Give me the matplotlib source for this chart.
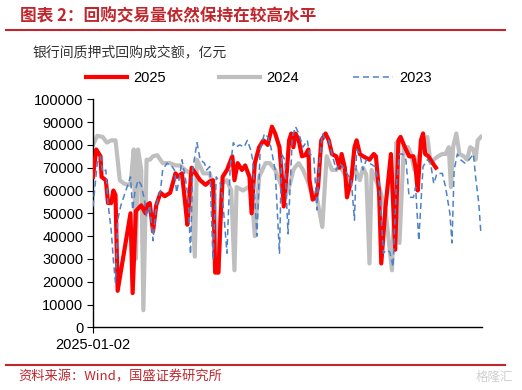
import matplotlib
matplotlib.use("Agg")
import matplotlib.pyplot as plt

plt.rcParams['font.family'] = ['Liberation Sans', 'Noto Sans CJK SC', 'DejaVu Sans']

# ---- data (day offset from 2025-01-02, value in 亿元) ----
days_2025 = [0, 3, 7, 8, 12, 14, 17, 19, 21, 23, 35, 37, 40, 45, 49, 50, 53, 56, 59, 63,
             67, 72, 77, 79, 83, 86, 88, 92, 100, 105, 109, 112, 114, 117, 119, 121, 125, 130,
             132, 135, 139, 142, 146, 148, 151, 155, 159, 163, 167, 170, 174, 176, 178, 181,
             183, 185, 187, 189, 192, 195, 198, 201, 202, 205, 208, 210, 213, 217, 220, 223,
             227, 230, 232, 235, 237, 241, 244, 246, 249, 252, 258, 262, 264, 267, 269, 273,
             278, 282, 285, 287, 291, 295, 299, 301, 303, 306, 308, 310, 313, 317, 320]
vals_2025 = [66000, 78000, 75000, 66000, 64500, 54500, 54500, 60000, 58000, 16000, 50000,
             15000, 51000, 53500, 50000, 53500, 54500, 42000, 53500, 59000, 57500, 59000,
             67500, 66000, 67500, 54500, 45000, 70000, 64500, 62500, 64000, 64500, 24000,
             24000, 47000, 66000, 69000, 75000, 64500, 72000, 69000, 71000, 66000, 50000,
             72000, 79000, 82000, 80000, 88000, 85000, 79000, 67500, 53000, 69000, 82000,
             85000, 79000, 85000, 82000, 75000, 75500, 78000, 64500, 56000, 57000, 61500,
             82000, 85000, 82000, 76000, 75000, 70000, 76000, 70000, 57000, 64500, 79000,
             82000, 76000, 75000, 73500, 76000, 75000, 59000, 28000, 53000, 76000, 34000,
             82000, 83500, 79000, 75000, 75000, 70000, 60000, 82000, 85000, 76000, 75000,
             72000, 70000]

days_2024 = [0, 4, 9, 13, 17, 21, 23, 25, 29, 33, 35, 38, 40, 42, 45, 47, 50, 53, 56, 60,
             65, 72, 77, 81, 86, 91, 95, 97, 103, 109, 113, 117, 120, 125, 129, 132, 134, 140,
             145, 148, 151, 155, 161, 165, 170, 175, 179, 183, 187, 189, 192, 196, 200, 204,
             208, 214, 218, 223, 227, 230, 235, 239, 243, 245, 249, 252, 255, 258, 260, 264,
             268, 273, 279, 283, 286, 290, 294, 297, 300, 304, 308, 312, 315, 318, 322, 326,
             329, 332, 334, 336, 339, 342, 346, 349, 352, 355, 357, 359, 362]
vals_2024 = [80000, 84000, 83500, 81000, 82000, 82000, 73500, 64500, 63000, 62500, 62500,
             78000, 30000, 78000, 69000, 7500, 73500, 73500, 75000, 75500, 72000, 72000,
             71000, 71000, 69000, 67500, 31000, 73500, 67500, 67500, 60000, 24000, 63000,
             64500, 60000, 25000, 61500, 60000, 61500, 59000, 40000, 66000, 72000, 72000,
             69000, 63000, 57000, 61500, 69000, 70500, 72000, 69000, 64500, 59000, 59000,
             44000, 75000, 69000, 69000, 71000, 67000, 64500, 67500, 69000, 64500, 70000,
             67000, 28000, 69000, 64500, 60000, 51000, 25000, 81000, 37000, 79000, 79000,
             75500, 69000, 75000, 79000, 83500, 72000, 73500, 75000, 76000, 76000, 79000,
             61500, 79000, 85000, 76000, 75000, 73500, 79000, 78000, 73500, 82000, 83500]

days_2023 = [0, 4, 7, 9, 12, 14, 17, 19, 21, 23, 26, 30, 35, 37, 39, 42, 45, 48, 50, 53,
             56, 59, 63, 65, 69, 73, 76, 78, 81, 83, 86, 89, 91, 93, 97, 100, 104, 106, 109,
             112, 115, 119, 121, 125, 128, 131, 133, 137, 141, 144, 147, 149, 153, 156, 160,
             163, 166, 170, 174, 176, 179, 182, 186, 189, 192, 196, 200, 202, 206, 209, 211,
             214, 217, 220, 223, 227, 230, 233, 237, 241, 244, 246, 249, 252, 255, 258, 263,
             267, 271, 274, 277, 280, 283, 286, 289, 292, 295, 299, 301, 304, 308, 312, 315,
             318, 321, 326, 329, 333, 335, 337, 340, 343, 347, 351, 355, 357, 360, 362]
vals_2023 = [53000, 72000, 75000, 68000, 69000, 54500, 42500, 29500, 19500, 47000, 53500,
             59000, 66000, 51500, 59000, 64500, 62500, 56000, 48500, 53500, 38000, 53500,
             60000, 69000, 72000, 71000, 69000, 59000, 66500, 73500, 66000, 56000, 32000,
             69000, 81000, 73500, 72000, 69000, 70500, 29500, 66000, 63000, 56000, 32500,
             70500, 81000, 79000, 80000, 79000, 82000, 78000, 73500, 40000, 78000, 85000,
             83500, 79000, 69000, 32500, 76000, 73500, 41000, 83500, 88000, 85000, 79000,
             82000, 76000, 75000, 51500, 70500, 85000, 82000, 82000, 76000, 69000, 72000,
             70500, 67500, 64500, 47000, 78000, 76000, 69000, 73500, 72000, 70500, 63000,
             32500, 34000, 33000, 26500, 61500, 76000, 76000, 73500, 57000, 57000, 61500,
             38000, 70500, 73500, 72000, 63000, 67500, 67500, 61500, 50000, 37000, 69000,
             76000, 73500, 72000, 73500, 76000, 66000, 54500, 41000]

y_ticks = [0, 10000, 20000, 30000, 40000, 50000, 60000, 70000, 80000, 90000, 100000]
x_tick_labels = ["2025-01-02"]

title = "图表 2：回购交易量依然保持在较高水平"
subtitle = "银行间质押式回购成交额，亿元"
source = "资料来源：Wind，国盛证券研究所"

W, H = 522, 390
fig = plt.figure(figsize=(W / 100, H / 100), dpi=100)
fig.patch.set_facecolor("white")

def fx(px):
    return px / W

def fy(py):
    return 1 - py / H

ax = fig.add_axes([fx(93), fy(327.3), (482 - 93) / W, (327.3 - 99.3) / H])

l24, = ax.plot(days_2024, vals_2024, color="#bfbfbf", lw=3.0, solid_joinstyle="round",
               label="2024", zorder=2)
l25, = ax.plot(days_2025, vals_2025, color="#ff0000", lw=3.0, solid_joinstyle="round",
               label="2025", zorder=3)
l23, = ax.plot(days_2023, vals_2023, color="#4f81c7", lw=1.1, ls=(0, (4, 2.5)),
               label="2023", zorder=4)

ax.set_xlim(0, 363)
ax.set_ylim(0, 100000)
ax.set_yticks(y_ticks)
ax.set_yticklabels([str(v) for v in y_ticks], fontsize=10.5, color="#000000")
ax.set_xticks([0])
ax.set_xticklabels(x_tick_labels, fontsize=10.5)
ax.tick_params(axis="y", direction="out", length=4, width=0.8, pad=3)
ax.tick_params(axis="x", direction="out", length=4, width=0.8, pad=4)
for s in ["top", "right"]:
    ax.spines[s].set_visible(False)
for s in ["left", "bottom"]:
    ax.spines[s].set_linewidth(1.0)
    ax.spines[s].set_color("#000000")

fig.legend(handles=[l25, l24, l23], loc="center", bbox_to_anchor=(fx(259), fy(78)),
           ncol=3, frameon=False, fontsize=10.5, handlelength=2.8, handletextpad=0.4,
           columnspacing=3.7)

red = "#c0272d"
fig.text(fx(20), fy(16), title, fontsize=12, color=red, style="italic", weight="bold",
         va="center", ha="left", family=["Noto Sans CJK SC", "DejaVu Sans"])
fig.add_artist(plt.Line2D([fx(6), fx(505)], [fy(30), fy(30)], color=red, lw=1.5))
fig.text(fx(33), fy(52), subtitle, fontsize=10, color="#333333", va="center", ha="left",
         family=["Noto Sans CJK SC", "DejaVu Sans"])
fig.add_artist(plt.Line2D([fx(6), fx(505)], [fy(365), fy(365)], color=red, lw=1.5))
fig.text(fx(18), fy(377), source, fontsize=9.5, color=red, style="italic", va="center",
         ha="left", family=["Noto Sans CJK SC", "DejaVu Sans"])
fig.text(fx(476), fy(377), "格隆汇", fontsize=9, color="#d0d0d0", va="center", ha="left",
         family=["Noto Sans CJK SC", "DejaVu Sans"])

fig.savefig("out.png", dpi=100)
